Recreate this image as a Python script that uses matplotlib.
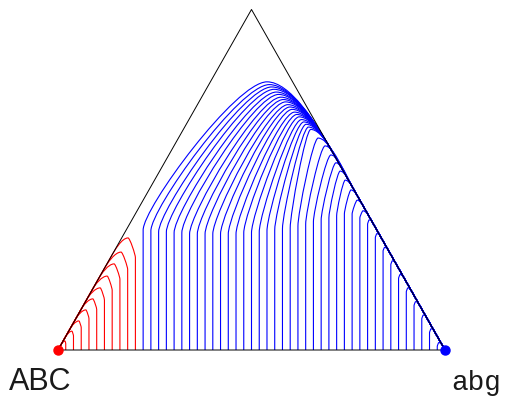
import numpy as np
import matplotlib.pyplot as plt
from matplotlib.path import Path
from matplotlib.patches import PathPatch

# red family (left corner): base position, top of straight part, peak, where it meets the left edge
red_x0 = [0.02, 0.04, 0.06, 0.08, 0.10, 0.12, 0.14, 0.16, 0.18, 0.20]
red_knee = [0.016, 0.036, 0.057, 0.080, 0.103, 0.127, 0.152, 0.180, 0.205, 0.235]
red_peak_x = [0.018, 0.036, 0.054, 0.072, 0.090, 0.109, 0.127, 0.145, 0.163, 0.181]
red_peak_y = [0.023, 0.048, 0.074, 0.102, 0.130, 0.158, 0.188, 0.219, 0.249, 0.285]
red_touch = [0.010, 0.031, 0.053, 0.076, 0.102, 0.127, 0.153, 0.178, 0.203, 0.234]

# blue family (right corner)
blue_x0 = [0.22, 0.24, 0.26, 0.28, 0.30, 0.32, 0.34, 0.36, 0.38, 0.40,
           0.42, 0.44, 0.46, 0.48, 0.50, 0.52, 0.54, 0.56, 0.58, 0.60,
           0.62, 0.64, 0.66, 0.68, 0.70, 0.72, 0.74, 0.76, 0.78, 0.80,
           0.82, 0.84, 0.86, 0.88, 0.90, 0.92, 0.94, 0.96, 0.98]
blue_knee = [0.305, 0.303, 0.300, 0.300, 0.298, 0.298, 0.295, 0.295, 0.295, 0.295,
             0.295, 0.295, 0.295, 0.298, 0.298, 0.300, 0.303, 0.305, 0.308, 0.310,
             0.315, 0.320, 0.326, 0.331, 0.336, 0.341, 0.346, 0.346, 0.336, 0.320,
             0.286, 0.252, 0.217, 0.182, 0.148, 0.113, 0.079, 0.044, 0.009]
blue_peak_x = [0.540, 0.546, 0.552, 0.558, 0.564, 0.570, 0.576, 0.582, 0.588, 0.594,
               0.599, 0.605, 0.611, 0.617, 0.623, 0.629, 0.635, 0.641, 0.647, 0.653,
               0.672, 0.690, 0.705, 0.718, 0.729, 0.742, 0.757, 0.773, 0.788, 0.804,
               0.824, 0.844, 0.864, 0.884, 0.904, 0.924, 0.944, 0.964, 0.984]
blue_peak_y = [0.682, 0.675, 0.669, 0.663, 0.656, 0.650, 0.643, 0.637, 0.631, 0.624,
               0.618, 0.612, 0.605, 0.599, 0.593, 0.586, 0.580, 0.574, 0.567, 0.561,
               0.539, 0.519, 0.496, 0.476, 0.455, 0.432, 0.407, 0.381, 0.354, 0.331,
               0.296, 0.261, 0.227, 0.192, 0.158, 0.123, 0.089, 0.054, 0.019]
blue_touch = [0.504, 0.501, 0.497, 0.494, 0.491, 0.488, 0.485, 0.482, 0.479, 0.476,
              0.473, 0.470, 0.467, 0.464, 0.461, 0.458, 0.455, 0.452, 0.449, 0.446,
              0.437, 0.427, 0.417, 0.407, 0.397, 0.381, 0.364, 0.343, 0.318, 0.290,
              0.256, 0.221, 0.186, 0.151, 0.117, 0.083, 0.048, 0.013, 0.003]

left_label = "ABC"
right_label = "abg"

SQ3 = np.sqrt(3)
corners = np.array([[0, 0], [1, 0], [0.5, SQ3 / 2], [0, 0]])


def curve(x0, ky, px, py, ty, side):
    # vertical rise, rounded peak, then slide onto the edge and along it to the corner
    if side == "right":
        tx = 1 - ty / SQ3
        d = np.array([0.5, -SQ3 / 2])
        end = (1, 0)
    else:
        tx = ty / SQ3
        d = np.array([-0.5, -SQ3 / 2])
        end = (0, 0)
    L = np.hypot(tx - px, ty - py)
    verts = [(x0, 0), (x0, ky),
             (x0, ky + 0.15 * (py - ky)), (px - 0.25 * (px - x0), py), (px, py),
             (px + 0.35 * (tx - px), py), (tx - 0.35 * L * d[0], ty - 0.35 * L * d[1]), (tx, ty),
             end]
    codes = [Path.MOVETO, Path.LINETO] + [Path.CURVE4] * 6 + [Path.LINETO]
    return Path(verts, codes)


fig = plt.figure(figsize=(5.09, 4.07), dpi=100)
ax = fig.add_axes([0, 0, 1, 1])
ax.set_xlim(-58 / 387, 451 / 387)
ax.set_ylim(-57 / 393.2, 350 / 393.2)
ax.axis("off")

ax.plot(corners[:, 0], corners[:, 1], color="black", lw=0.7)

for i in range(len(red_x0)):
    p = curve(red_x0[i], red_knee[i], red_peak_x[i], red_peak_y[i], red_touch[i], "left")
    ax.add_patch(PathPatch(p, fill=False, edgecolor="red", lw=0.8))

for i in range(len(blue_x0)):
    p = curve(blue_x0[i], blue_knee[i], blue_peak_x[i], blue_peak_y[i], blue_touch[i], "right")
    ax.add_patch(PathPatch(p, fill=False, edgecolor="blue", lw=0.8))

ax.plot([0], [0], "o", color="red", ms=6.5, clip_on=False)
ax.plot([1], [0], "o", color="blue", ms=6.5, clip_on=False)

fig.text(9 / 509, 1 - 390 / 407, left_label, fontsize=22, family="Liberation Sans",
         color="#1a1a1a", va="baseline", ha="left")
fig.text(501 / 509, 1 - 390 / 407, right_label, fontsize=20, family="Liberation Mono",
         color="#1a1a1a", va="baseline", ha="right")

fig.savefig("out.png", dpi=100)
